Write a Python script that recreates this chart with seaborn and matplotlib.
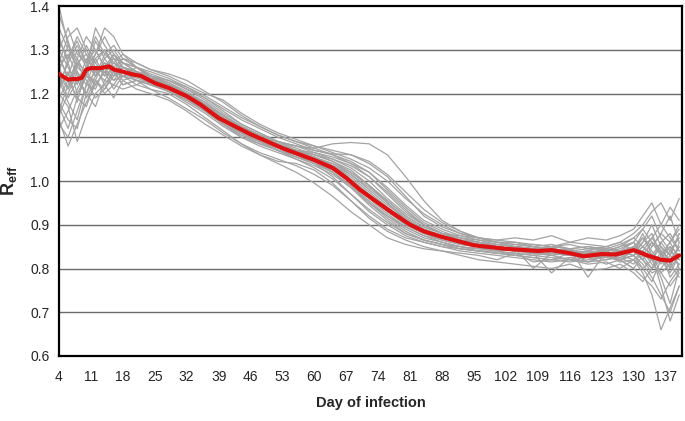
import pandas as pd
import numpy as np
import matplotlib
matplotlib.use('Agg')
import matplotlib.pyplot as plt
import seaborn as sns

# sampled days for the individual runs
days = [4, 6, 8, 10, 12, 14, 16, 18, 21, 24, 28, 32, 36, 40, 44, 48, 52, 56, 60, 64, 68,
        72, 76, 80, 84, 88, 92, 96, 100, 104, 108, 112, 116, 120, 124, 127, 130, 132,
        134, 136, 138, 140]

# individual simulation runs (grey)
runs = [
    [1.30, 1.26, 1.22, 1.28, 1.25, 1.27, 1.24, 1.25, 1.23, 1.21, 1.20, 1.175, 1.145, 1.115, 1.085, 1.06, 1.04, 1.02, 0.995, 0.965, 0.93, 0.90, 0.87, 0.855, 0.845, 0.84, 0.835, 0.83, 0.82, 0.835, 0.815, 0.82, 0.835, 0.815, 0.83, 0.84, 0.86, 0.83, 0.80, 0.82, 0.85, 0.83],
    [1.18, 1.14, 1.12, 1.20, 1.24, 1.27, 1.26, 1.24, 1.25, 1.24, 1.23, 1.21, 1.19, 1.16, 1.13, 1.11, 1.09, 1.08, 1.075, 1.085, 1.088, 1.085, 1.06, 1.01, 0.955, 0.91, 0.885, 0.87, 0.86, 0.855, 0.85, 0.845, 0.84, 0.845, 0.85, 0.84, 0.83, 0.85, 0.87, 0.84, 0.80, 0.86],
    [1.38, 1.32, 1.25, 1.22, 1.28, 1.30, 1.27, 1.26, 1.24, 1.23, 1.22, 1.20, 1.17, 1.14, 1.11, 1.09, 1.07, 1.06, 1.05, 1.04, 1.02, 0.99, 0.95, 0.91, 0.885, 0.87, 0.86, 0.855, 0.85, 0.845, 0.84, 0.85, 0.83, 0.835, 0.84, 0.82, 0.83, 0.86, 0.90, 0.85, 0.83, 0.88],
    [1.13, 1.10, 1.16, 1.22, 1.21, 1.26, 1.29, 1.27, 1.25, 1.22, 1.21, 1.19, 1.16, 1.13, 1.105, 1.09, 1.07, 1.055, 1.04, 1.02, 0.99, 0.95, 0.92, 0.895, 0.875, 0.865, 0.855, 0.85, 0.84, 0.845, 0.835, 0.84, 0.845, 0.83, 0.825, 0.84, 0.85, 0.82, 0.79, 0.80, 0.83, 0.81],
    [1.25, 1.31, 1.28, 1.33, 1.30, 1.26, 1.28, 1.25, 1.24, 1.23, 1.215, 1.195, 1.17, 1.14, 1.115, 1.095, 1.08, 1.065, 1.05, 1.035, 1.01, 0.975, 0.94, 0.91, 0.89, 0.875, 0.865, 0.86, 0.855, 0.85, 0.845, 0.84, 0.835, 0.84, 0.835, 0.83, 0.845, 0.84, 0.82, 0.86, 0.88, 0.84],
    [1.20, 1.17, 1.09, 1.15, 1.20, 1.22, 1.25, 1.24, 1.26, 1.235, 1.22, 1.20, 1.175, 1.145, 1.12, 1.10, 1.085, 1.07, 1.06, 1.05, 1.03, 1.00, 0.96, 0.925, 0.90, 0.88, 0.87, 0.86, 0.85, 0.845, 0.80, 0.835, 0.83, 0.825, 0.83, 0.82, 0.83, 0.81, 0.78, 0.74, 0.70, 0.76],
    [1.28, 1.24, 1.30, 1.26, 1.35, 1.31, 1.28, 1.27, 1.25, 1.24, 1.22, 1.20, 1.18, 1.15, 1.125, 1.105, 1.09, 1.075, 1.06, 1.045, 1.025, 0.99, 0.955, 0.92, 0.895, 0.88, 0.87, 0.86, 0.855, 0.85, 0.855, 0.85, 0.845, 0.85, 0.84, 0.85, 0.87, 0.89, 0.92, 0.87, 0.84, 0.82],
    [1.22, 1.27, 1.20, 1.24, 1.23, 1.28, 1.25, 1.22, 1.23, 1.22, 1.205, 1.185, 1.16, 1.13, 1.11, 1.09, 1.075, 1.06, 1.04, 1.01, 0.97, 0.93, 0.90, 0.875, 0.86, 0.85, 0.845, 0.84, 0.835, 0.83, 0.835, 0.83, 0.82, 0.815, 0.82, 0.83, 0.84, 0.82, 0.85, 0.88, 0.86, 0.90],
    [1.15, 1.20, 1.25, 1.19, 1.23, 1.21, 1.24, 1.26, 1.245, 1.23, 1.21, 1.19, 1.165, 1.135, 1.11, 1.095, 1.08, 1.07, 1.065, 1.055, 1.04, 1.02, 0.985, 0.945, 0.91, 0.89, 0.875, 0.865, 0.86, 0.855, 0.85, 0.84, 0.845, 0.78, 0.84, 0.845, 0.86, 0.83, 0.82, 0.78, 0.72, 0.80],
    [1.32, 1.28, 1.33, 1.29, 1.27, 1.30, 1.26, 1.28, 1.26, 1.24, 1.225, 1.205, 1.18, 1.15, 1.12, 1.10, 1.08, 1.06, 1.045, 1.025, 0.995, 0.96, 0.925, 0.895, 0.875, 0.86, 0.85, 0.845, 0.84, 0.835, 0.83, 0.825, 0.82, 0.825, 0.81, 0.82, 0.80, 0.83, 0.86, 0.84, 0.82, 0.85],
    [1.24, 1.19, 1.23, 1.20, 1.17, 1.23, 1.22, 1.21, 1.22, 1.21, 1.19, 1.165, 1.14, 1.11, 1.085, 1.065, 1.05, 1.035, 1.015, 0.99, 0.955, 0.92, 0.89, 0.87, 0.86, 0.85, 0.84, 0.835, 0.83, 0.825, 0.82, 0.815, 0.82, 0.81, 0.815, 0.80, 0.82, 0.84, 0.81, 0.79, 0.76, 0.79],
    [1.27, 1.33, 1.35, 1.30, 1.26, 1.25, 1.27, 1.29, 1.27, 1.255, 1.24, 1.22, 1.20, 1.185, 1.155, 1.13, 1.11, 1.095, 1.08, 1.065, 1.05, 1.03, 1.00, 0.96, 0.925, 0.90, 0.88, 0.87, 0.86, 0.86, 0.855, 0.85, 0.86, 0.855, 0.85, 0.86, 0.88, 0.90, 0.93, 0.95, 0.91, 0.96],
    [1.19, 1.23, 1.27, 1.29, 1.24, 1.26, 1.23, 1.24, 1.23, 1.225, 1.21, 1.19, 1.165, 1.14, 1.115, 1.10, 1.085, 1.07, 1.055, 1.04, 1.015, 0.98, 0.945, 0.915, 0.89, 0.875, 0.865, 0.855, 0.85, 0.845, 0.84, 0.845, 0.84, 0.835, 0.845, 0.84, 0.83, 0.80, 0.77, 0.82, 0.79, 0.83],
    [1.12, 1.16, 1.21, 1.25, 1.32, 1.28, 1.30, 1.27, 1.26, 1.245, 1.23, 1.21, 1.185, 1.155, 1.13, 1.11, 1.09, 1.07, 1.05, 1.03, 1.00, 0.965, 0.93, 0.90, 0.88, 0.865, 0.855, 0.85, 0.85, 0.845, 0.85, 0.84, 0.835, 0.84, 0.83, 0.835, 0.85, 0.87, 0.84, 0.81, 0.84, 0.87],
    [1.35, 1.30, 1.26, 1.24, 1.28, 1.24, 1.26, 1.24, 1.24, 1.235, 1.22, 1.20, 1.175, 1.15, 1.125, 1.105, 1.09, 1.08, 1.07, 1.06, 1.045, 1.02, 0.98, 0.94, 0.905, 0.885, 0.87, 0.865, 0.855, 0.85, 0.845, 0.85, 0.855, 0.845, 0.84, 0.83, 0.82, 0.79, 0.74, 0.66, 0.71, 0.76],
    [1.21, 1.25, 1.18, 1.26, 1.29, 1.33, 1.29, 1.26, 1.25, 1.23, 1.215, 1.195, 1.17, 1.14, 1.115, 1.10, 1.085, 1.07, 1.055, 1.035, 1.005, 0.97, 0.935, 0.905, 0.885, 0.87, 0.86, 0.85, 0.845, 0.84, 0.835, 0.79, 0.825, 0.83, 0.84, 0.825, 0.84, 0.86, 0.88, 0.83, 0.85, 0.80],
    [1.26, 1.21, 1.26, 1.31, 1.27, 1.24, 1.29, 1.26, 1.25, 1.235, 1.22, 1.20, 1.17, 1.145, 1.12, 1.10, 1.08, 1.065, 1.05, 1.035, 1.015, 0.985, 0.95, 0.915, 0.89, 0.875, 0.86, 0.855, 0.845, 0.84, 0.835, 0.83, 0.84, 0.83, 0.82, 0.825, 0.81, 0.84, 0.87, 0.90, 0.87, 0.84],
    [1.16, 1.22, 1.28, 1.24, 1.22, 1.25, 1.24, 1.27, 1.26, 1.25, 1.235, 1.215, 1.19, 1.165, 1.14, 1.12, 1.10, 1.085, 1.07, 1.062, 1.06, 1.045, 1.015, 0.975, 0.935, 0.905, 0.885, 0.87, 0.86, 0.85, 0.845, 0.84, 0.835, 0.83, 0.835, 0.84, 0.84, 0.82, 0.80, 0.84, 0.78, 0.81],
    [1.30, 1.35, 1.29, 1.27, 1.24, 1.29, 1.27, 1.25, 1.235, 1.225, 1.205, 1.18, 1.155, 1.125, 1.10, 1.08, 1.065, 1.05, 1.035, 1.015, 0.985, 0.95, 0.915, 0.885, 0.865, 0.855, 0.85, 0.84, 0.835, 0.83, 0.825, 0.82, 0.825, 0.815, 0.83, 0.82, 0.84, 0.87, 0.85, 0.88, 0.92, 0.86],
    [1.23, 1.18, 1.14, 1.22, 1.25, 1.23, 1.26, 1.23, 1.24, 1.23, 1.21, 1.185, 1.16, 1.13, 1.105, 1.085, 1.07, 1.055, 1.04, 1.02, 0.99, 0.955, 0.92, 0.89, 0.87, 0.86, 0.85, 0.845, 0.845, 0.84, 0.845, 0.835, 0.83, 0.835, 0.825, 0.82, 0.83, 0.85, 0.83, 0.76, 0.68, 0.74],
    [1.33, 1.27, 1.31, 1.27, 1.30, 1.26, 1.25, 1.28, 1.26, 1.24, 1.225, 1.20, 1.175, 1.15, 1.125, 1.105, 1.085, 1.065, 1.045, 1.02, 0.985, 0.945, 0.91, 0.88, 0.865, 0.855, 0.845, 0.84, 0.835, 0.835, 0.83, 0.835, 0.84, 0.83, 0.845, 0.855, 0.87, 0.85, 0.83, 0.86, 0.83, 0.88],
    [1.17, 1.12, 1.19, 1.17, 1.23, 1.20, 1.22, 1.25, 1.24, 1.225, 1.215, 1.19, 1.17, 1.14, 1.12, 1.105, 1.09, 1.08, 1.065, 1.05, 1.035, 1.01, 0.97, 0.93, 0.90, 0.88, 0.865, 0.86, 0.85, 0.845, 0.84, 0.84, 0.83, 0.835, 0.83, 0.815, 0.82, 0.80, 0.82, 0.85, 0.81, 0.78],
    [1.26, 1.29, 1.24, 1.20, 1.26, 1.22, 1.19, 1.23, 1.21, 1.20, 1.185, 1.16, 1.13, 1.105, 1.08, 1.06, 1.045, 1.04, 1.025, 0.995, 0.955, 0.915, 0.885, 0.865, 0.85, 0.84, 0.83, 0.82, 0.815, 0.81, 0.805, 0.80, 0.81, 0.795, 0.80, 0.81, 0.79, 0.77, 0.80, 0.83, 0.86, 0.82],
    [1.21, 1.28, 1.32, 1.27, 1.33, 1.29, 1.31, 1.28, 1.27, 1.255, 1.245, 1.23, 1.205, 1.18, 1.15, 1.125, 1.105, 1.09, 1.075, 1.06, 1.04, 1.01, 0.975, 0.935, 0.90, 0.88, 0.875, 0.87, 0.865, 0.87, 0.865, 0.875, 0.86, 0.87, 0.865, 0.875, 0.89, 0.92, 0.95, 0.90, 0.94, 0.91],
    [1.40, 1.31, 1.27, 1.25, 1.22, 1.25, 1.21, 1.24, 1.22, 1.235, 1.215, 1.19, 1.165, 1.13, 1.10, 1.085, 1.07, 1.055, 1.04, 1.025, 1.00, 0.965, 0.93, 0.90, 0.88, 0.87, 0.86, 0.855, 0.845, 0.85, 0.84, 0.83, 0.835, 0.84, 0.85, 0.86, 0.84, 0.88, 0.83, 0.79, 0.81, 0.85],
    [1.14, 1.08, 1.13, 1.18, 1.22, 1.25, 1.23, 1.26, 1.25, 1.24, 1.23, 1.215, 1.195, 1.17, 1.145, 1.125, 1.105, 1.09, 1.08, 1.07, 1.06, 1.04, 1.01, 0.965, 0.92, 0.895, 0.88, 0.87, 0.865, 0.86, 0.85, 0.855, 0.845, 0.85, 0.845, 0.835, 0.85, 0.83, 0.86, 0.83, 0.80, 0.83],
    [1.29, 1.23, 1.19, 1.24, 1.29, 1.35, 1.33, 1.29, 1.26, 1.24, 1.22, 1.195, 1.17, 1.14, 1.11, 1.09, 1.07, 1.05, 1.03, 1.005, 0.97, 0.935, 0.905, 0.88, 0.865, 0.855, 0.845, 0.84, 0.84, 0.83, 0.825, 0.82, 0.815, 0.82, 0.83, 0.82, 0.80, 0.78, 0.76, 0.73, 0.77, 0.80],
    [1.24, 1.21, 1.27, 1.23, 1.19, 1.21, 1.25, 1.22, 1.23, 1.22, 1.205, 1.185, 1.16, 1.135, 1.115, 1.095, 1.08, 1.07, 1.06, 1.045, 1.02, 0.99, 0.955, 0.92, 0.895, 0.88, 0.865, 0.855, 0.85, 0.84, 0.845, 0.85, 0.845, 0.83, 0.84, 0.85, 0.86, 0.89, 0.86, 0.83, 0.86, 0.89],
]

# mean curve (red)
mean_days = [4, 5, 6, 7, 8, 9, 10, 11, 13, 15, 16, 18, 20, 22, 25, 28, 32, 35, 39, 42, 46,
             53, 60, 64, 67, 70, 74, 77, 81, 84, 88, 95, 102, 109, 112, 116, 119, 123,
             126, 130, 133, 136, 138, 140]
mean_vals = [1.245, 1.238, 1.232, 1.233, 1.233, 1.236, 1.255, 1.258, 1.258, 1.262, 1.255,
             1.25, 1.244, 1.24, 1.224, 1.213, 1.194, 1.175, 1.144, 1.128, 1.107,
             1.075, 1.048, 1.03, 1.007, 0.98, 0.95, 0.928, 0.9, 0.885, 0.872, 0.853,
             0.845, 0.84, 0.842, 0.835, 0.828, 0.833, 0.832, 0.842, 0.83, 0.82, 0.818, 0.83]

x_ticks = list(range(4, 141, 7))
y_ticks = [0.6, 0.7, 0.8, 0.9, 1.0, 1.1, 1.2, 1.3, 1.4]

df = pd.DataFrame([(d, v, i) for i, r in enumerate(runs) for d, v in zip(days, r)],
                  columns=['Day', 'Reff', 'run'])
mean_df = pd.DataFrame({'Day': mean_days, 'Reff': mean_vals})

sns.set_style('white')
plt.rcParams['font.family'] = ['Liberation Sans', 'DejaVu Sans']
plt.rcParams['mathtext.fontset'] = 'custom'
plt.rcParams['mathtext.bf'] = 'Liberation Sans:bold'
plt.rcParams['mathtext.rm'] = 'Liberation Sans'

fig = plt.figure(figsize=(6.85, 4.21), dpi=100)
ax = fig.add_axes([0.0861, 0.1544, 0.9095, 0.8313])

for y in y_ticks[1:-1]:
    ax.axhline(y, color='#6a6a6a', lw=1.0, zorder=1)

sns.lineplot(data=df, x='Day', y='Reff', units='run', estimator=None,
             color='#a3a3a3', lw=0.9, ax=ax, zorder=2)
sns.lineplot(data=mean_df, x='Day', y='Reff', color='#dd1111', lw=3.0, ax=ax, zorder=3)

ax.set_xlim(4, 140.6)
ax.set_ylim(0.6, 1.4)
ax.set_xticks(x_ticks)
ax.set_yticks(y_ticks)
ax.set_yticklabels([f'{v:.1f}' for v in y_ticks])
ax.tick_params(axis='both', labelsize=10, length=3, width=0.8, color='#9a9a9a',
               direction='out', pad=4)
ax.tick_params(axis='x', pad=7)
for s in ax.spines.values():
    s.set_color('black')
    s.set_linewidth(1.6)

ax.set_xlabel('Day of infection', fontsize=10.5, fontweight='bold', labelpad=9)
ax.set_ylabel(r'$\mathbf{R}_{\mathbf{eff}}$', fontsize=13, labelpad=8)

plt.savefig('out.png', dpi=100)
